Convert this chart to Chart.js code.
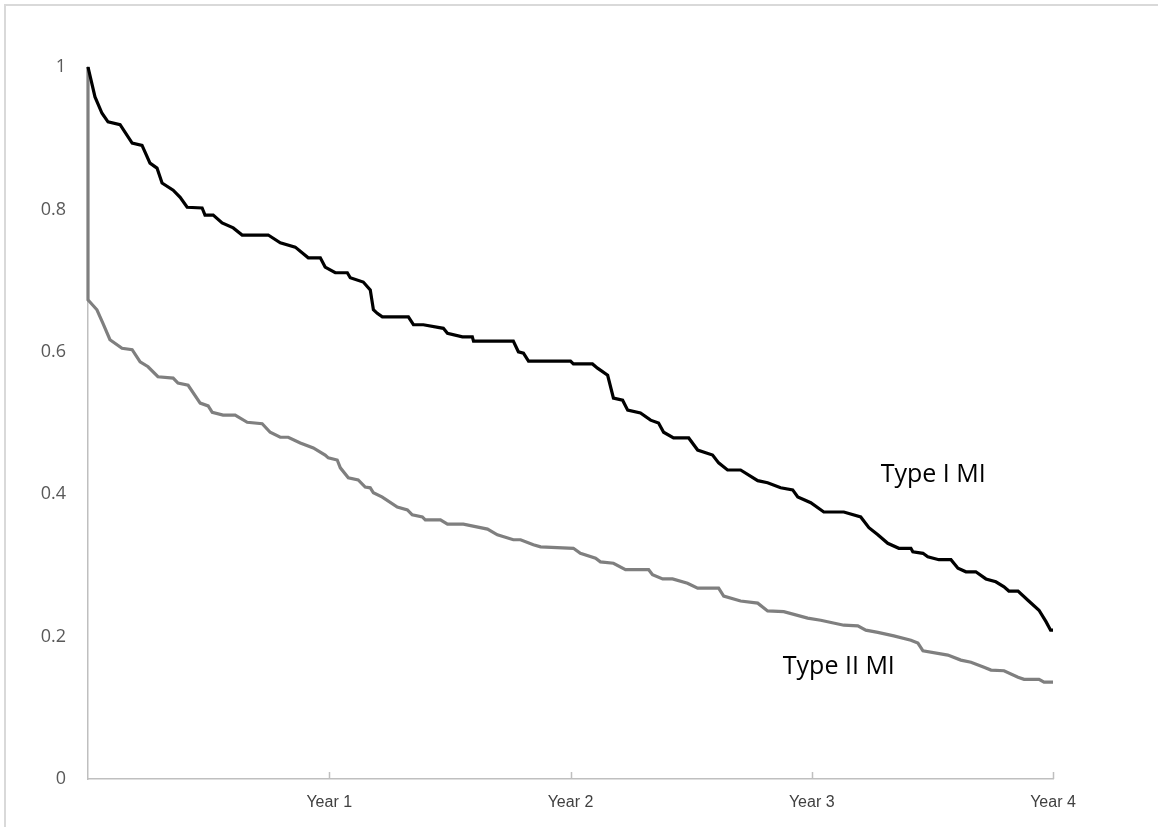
<!DOCTYPE html>
<html>
<head>
<meta charset="utf-8">
<script src="https://cdn.jsdelivr.net/npm/chart.js@4"></script>
<style>
  body { margin: 0; background: #fff; }
  #wrap { width: 1158px; height: 827px; position: relative; }
</style>
</head>
<body>
<div id="wrap"><canvas id="chart"></canvas></div>
<script>
// time in years, survival fraction
const type1Years = [0, 0.029, 0.058, 0.083, 0.133, 0.183, 0.224, 0.257, 0.286, 0.307, 0.353, 0.382, 0.411, 0.473, 0.485, 0.519, 0.556, 0.602, 0.639, 0.747, 0.797, 0.859, 0.913, 0.963, 0.983, 1.025, 1.075, 1.087, 1.141, 1.170, 1.183, 1.199, 1.220, 1.328, 1.349, 1.390, 1.473, 1.490, 1.552, 1.593, 1.598, 1.763, 1.784, 1.805, 1.826, 2.000, 2.012, 2.091, 2.112, 2.154, 2.178, 2.216, 2.237, 2.290, 2.332, 2.365, 2.386, 2.427, 2.490, 2.527, 2.589, 2.614, 2.651, 2.705, 2.776, 2.817, 2.871, 2.921, 2.942, 2.996, 3.050, 3.133, 3.203, 3.237, 3.274, 3.315, 3.361, 3.411, 3.419, 3.461, 3.481, 3.527, 3.577, 3.606, 3.639, 3.680, 3.722, 3.763, 3.797, 3.817, 3.855, 3.896, 3.942, 3.971, 3.990, 4.0];
const type1Surv = [1.000, 0.958, 0.935, 0.923, 0.919, 0.893, 0.890, 0.865, 0.858, 0.837, 0.827, 0.817, 0.803, 0.802, 0.792, 0.792, 0.781, 0.774, 0.764, 0.764, 0.753, 0.747, 0.732, 0.732, 0.719, 0.711, 0.711, 0.704, 0.698, 0.687, 0.659, 0.654, 0.649, 0.649, 0.638, 0.638, 0.633, 0.626, 0.621, 0.621, 0.615, 0.615, 0.600, 0.598, 0.587, 0.587, 0.583, 0.583, 0.577, 0.567, 0.535, 0.532, 0.518, 0.514, 0.504, 0.500, 0.487, 0.479, 0.479, 0.462, 0.455, 0.444, 0.434, 0.434, 0.419, 0.416, 0.409, 0.406, 0.396, 0.388, 0.375, 0.375, 0.368, 0.353, 0.343, 0.331, 0.324, 0.324, 0.319, 0.317, 0.312, 0.308, 0.308, 0.296, 0.291, 0.291, 0.281, 0.277, 0.270, 0.264, 0.264, 0.251, 0.237, 0.221, 0.209, 0.209];

const type2Years = [0, 0, 0.008, 0.037, 0.062, 0.091, 0.141, 0.183, 0.216, 0.249, 0.290, 0.353, 0.373, 0.415, 0.465, 0.498, 0.515, 0.560, 0.610, 0.660, 0.722, 0.755, 0.797, 0.830, 0.880, 0.934, 0.983, 0.996, 1.033, 1.046, 1.079, 1.120, 1.149, 1.170, 1.183, 1.220, 1.282, 1.324, 1.344, 1.386, 1.398, 1.461, 1.490, 1.556, 1.656, 1.697, 1.763, 1.793, 1.846, 1.876, 2.012, 2.041, 2.104, 2.124, 2.178, 2.228, 2.324, 2.340, 2.382, 2.423, 2.485, 2.527, 2.614, 2.635, 2.705, 2.776, 2.817, 2.884, 2.983, 3.037, 3.133, 3.191, 3.224, 3.274, 3.340, 3.411, 3.440, 3.461, 3.564, 3.618, 3.660, 3.714, 3.743, 3.797, 3.855, 3.880, 3.942, 3.963, 4.0];
const type2Surv = [1.000, 0.673, 0.670, 0.659, 0.640, 0.617, 0.605, 0.603, 0.586, 0.579, 0.565, 0.563, 0.556, 0.553, 0.528, 0.524, 0.515, 0.511, 0.511, 0.501, 0.499, 0.487, 0.480, 0.480, 0.472, 0.465, 0.455, 0.451, 0.448, 0.437, 0.423, 0.420, 0.410, 0.409, 0.402, 0.396, 0.382, 0.378, 0.371, 0.368, 0.364, 0.364, 0.358, 0.358, 0.351, 0.343, 0.336, 0.336, 0.329, 0.326, 0.324, 0.317, 0.310, 0.305, 0.303, 0.294, 0.294, 0.287, 0.281, 0.281, 0.275, 0.268, 0.268, 0.257, 0.250, 0.247, 0.236, 0.235, 0.226, 0.223, 0.216, 0.215, 0.209, 0.206, 0.201, 0.195, 0.191, 0.180, 0.174, 0.167, 0.164, 0.157, 0.153, 0.152, 0.143, 0.140, 0.140, 0.136, 0.136];

const xTickLabels = ['', 'Year 1', 'Year 2', 'Year 3', 'Year 4'];
const yTickLabels = ['0', '0.2', '0.4', '0.6', '0.8', '1'];
const seriesNames = ['Type I MI', 'Type II MI'];

function toPoints(xs, ys) {
  return xs.map((x, i) => ({ x: x, y: ys[i] }));
}

// light frame round the whole picture
const framePlugin = {
  id: 'frame',
  beforeDraw(chart) {
    const ctx = chart.ctx;
    ctx.save();
    ctx.strokeStyle = '#d9d9d9';
    ctx.lineWidth = 2;
    ctx.strokeRect(5, 5, chart.width + 10, chart.height + 10);
    ctx.restore();
  },
};

// tick marks pointing up into the plot, like the original
const innerTicks = {
  id: 'innerTicks',
  afterDatasetsDraw(chart) {
    const ctx = chart.ctx;
    const xs = chart.scales.x;
    const bottom = chart.chartArea.bottom;
    ctx.save();
    ctx.strokeStyle = '#bfbfbf';
    ctx.lineWidth = 1.5;
    xs.ticks.forEach((t) => {
      if (t.value === 0) return;
      const px = Math.round(xs.getPixelForValue(t.value)) + 0.5;
      ctx.beginPath();
      ctx.moveTo(px, bottom);
      ctx.lineTo(px, bottom - 7);
      ctx.stroke();
    });
    ctx.restore();
  },
};

// curve names written next to the lines
const curveLabels = {
  id: 'curveLabels',
  afterDatasetsDraw(chart, args, opts) {
    const ctx = chart.ctx;
    ctx.save();
    ctx.font = '25px "Open Sans", sans-serif';
    ctx.fillStyle = '#000';
    ctx.textAlign = 'left';
    ctx.textBaseline = 'alphabetic';
    opts.items.forEach((it) => {
      ctx.fillText(it.text, chart.scales.x.getPixelForValue(it.x), chart.scales.y.getPixelForValue(it.y));
    });
    ctx.restore();
  },
};

new Chart(document.getElementById('chart'), {
  type: 'line',
  data: {
    datasets: [
      {
        label: seriesNames[0],
        data: toPoints(type1Years, type1Surv),
        borderColor: '#000000',
        borderWidth: 3.2,
        pointRadius: 0,
        tension: 0,
        clip: 4,
      },
      {
        label: seriesNames[1],
        data: toPoints(type2Years, type2Surv),
        borderColor: '#7f7f7f',
        borderWidth: 3.2,
        pointRadius: 0,
        tension: 0,
        clip: 4,
      },
    ],
  },
  options: {
    responsive: true,
    maintainAspectRatio: false,
    animation: false,
    layout: { padding: { left: 0, top: 67, right: 105, bottom: 0 } },
    plugins: {
      legend: { display: false },
      tooltip: { enabled: false },
      curveLabels: {
        items: [
          { text: seriesNames[0], x: 3.286, y: 0.417 },
          { text: seriesNames[1], x: 2.88, y: 0.147 },
        ],
      },
    },
    scales: {
      x: {
        type: 'linear',
        min: 0,
        max: 4,
        afterFit: (s) => { s.height = 48; },
        grid: { drawOnChartArea: false, drawTicks: false },
        border: { display: true, color: '#bfbfbf', width: 1.5 },
        ticks: {
          stepSize: 1,
          padding: 14,
          maxRotation: 0,
          color: '#404040',
          font: { family: '"Liberation Sans Narrow", "Liberation Sans", sans-serif', size: 16 },
          callback: (v) => xTickLabels[v] ?? '',
        },
      },
      y: {
        min: 0,
        max: 1,
        afterFit: (s) => { s.width = 88; },
        grid: { drawOnChartArea: false, drawTicks: false },
        border: { display: true, color: '#bfbfbf', width: 1.5 },
        ticks: {
          stepSize: 0.2,
          padding: 22,
          color: '#595959',
          font: { family: '"Open Sans", sans-serif', size: 18 },
          callback: (v, i) => yTickLabels[i],
        },
      },
    },
  },
  plugins: [framePlugin, innerTicks, curveLabels],
});
</script>
</body>
</html>
